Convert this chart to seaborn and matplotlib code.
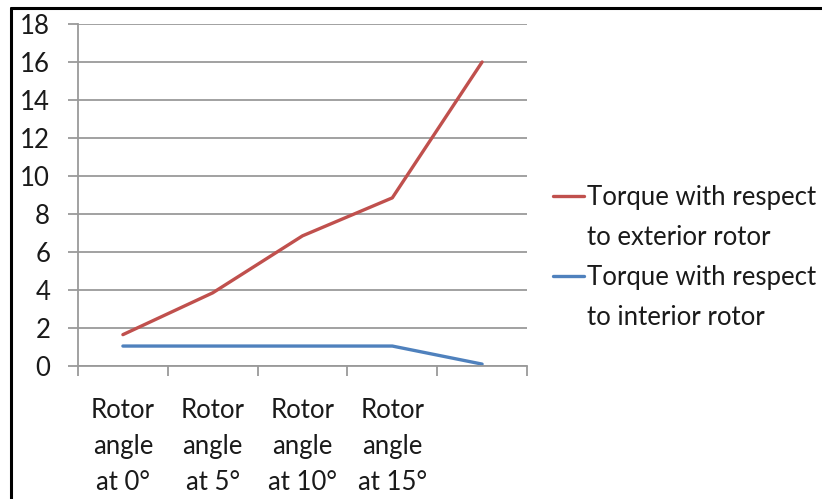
import numpy as np
import pandas as pd
import seaborn as sns
import matplotlib.pyplot as plt
from matplotlib.lines import Line2D

# data
categories = ["Rotor\nangle\nat 0°", "Rotor\nangle\nat 5°", "Rotor\nangle\nat 10°", "Rotor\nangle\nat 15°", ""]
exterior = [1.65, 3.85, 6.85, 8.85, 16.0]
interior = [1.05, 1.05, 1.05, 1.05, 0.1]
series_names = ["Torque with respect\nto exterior rotor", "Torque with respect\nto interior rotor"]
yticks = list(range(0, 19, 2))

red = "#C0504D"
blue = "#4F81BD"
grid = "#9a9a9a"

df = pd.DataFrame({
    "pos": list(range(len(categories))) * 2,
    "torque": exterior + interior,
    "series": [series_names[0]] * len(exterior) + [series_names[1]] * len(interior),
})

sns.set_style("white")
plt.rcParams['font.family'] = ['Lato', 'DejaVu Sans']
fs = 18.5

fig = plt.figure(figsize=(8.22, 4.99), dpi=100)
ax = fig.add_axes([78 / 822, 1 - 366 / 499, (527 - 78) / 822, (366 - 24) / 499])
sns.lineplot(data=df, x="pos", y="torque", hue="series", palette=[red, blue],
             lw=2.4, legend=False, ax=ax)

ax.set_xlim(-0.5, len(categories) - 0.5)
ax.set_ylim(0, 18)
ax.set_yticks(yticks)
ax.set_yticklabels([str(t) for t in yticks])
ax.yaxis.grid(True, color=grid, lw=1.3)
ax.set_xticks(np.arange(-0.5, len(categories), 1))
ax.set_xticklabels([])
ax.set_xticks(range(len(categories)), minor=True)
ax.set_xticklabels(categories, minor=True)
for t in ax.get_xticklabels(minor=True):
    t.set_linespacing(1.55)
ax.set_xlabel("")
ax.set_ylabel("")
ax.tick_params(axis='x', which='major', bottom=True, length=7, width=1.3, color=grid, direction='out')
ax.tick_params(axis='x', which='minor', bottom=True, length=0, pad=23, labelsize=fs, labelcolor="#1a1a1a")
ax.tick_params(axis='y', left=True, length=7, width=1.3, color=grid, pad=13, labelsize=fs, labelcolor="#1a1a1a")
for s in ["top", "right"]:
    ax.spines[s].set_visible(False)
for s in ["left", "bottom"]:
    ax.spines[s].set_color(grid)
    ax.spines[s].set_linewidth(1.3)

# legend: handle aligned with the first line of each label, like Excel
handles = [Line2D([], [], color=red, lw=2.4), Line2D([], [], color="none"),
           Line2D([], [], color=blue, lw=2.4), Line2D([], [], color="none")]
labels = []
for name in series_names:
    labels += name.split("\n")
fig.legend(handles, labels, loc="upper left", bbox_to_anchor=(553 / 822, 1 - 185 / 499),
           frameon=False, fontsize=fs, handlelength=1.2, handletextpad=0.12,
           labelspacing=0.58, borderaxespad=0, borderpad=0, labelcolor="#1a1a1a")

# outer frame (top and left edges visible in the reference)
fig.add_artist(Line2D([11 / 822, 1], [1 - 8 / 499, 1 - 8 / 499], color="black", lw=2.2, transform=fig.transFigure))
fig.add_artist(Line2D([11 / 822, 11 / 822], [0, 1 - 8 / 499], color="black", lw=2.2, transform=fig.transFigure))

fig.savefig("out.png", dpi=100)
